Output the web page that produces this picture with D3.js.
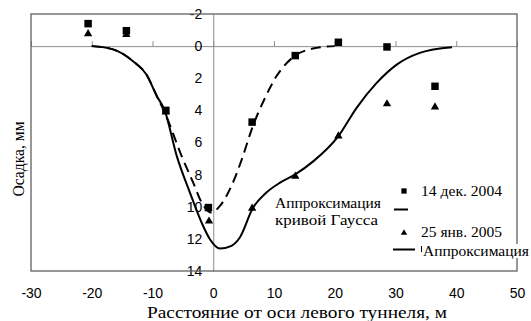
<!DOCTYPE html>
<html>
<head>
<meta charset="utf-8">
<script src="https://cdn.jsdelivr.net/npm/d3@7"></script>
<style>
  body { margin: 0; background: #fff; }
</style>
</head>
<body>
<div id="chart"></div>
<script>
// tick values
var xTicks = [-30, -20, -10, 0, 10, 20, 30, 40, 50];
var yTicks = [-2, 0, 2, 4, 6, 8, 10, 12, 14];

// measured settlement, 14 Dec 2004 (squares)
var decX = [-20.6, -14.3, -7.8, -0.8, 6.4, 13.5, 20.6, 28.6, 36.5];
var decY = [-1.4, -0.96, 4.0, 10.05, 4.73, 0.59, -0.24, 0.05, 2.5];

// measured settlement, 25 Jan 2005 (triangles)
var janX = [-20.6, -14.3, -7.8, -0.7, 6.4, 13.5, 20.6, 28.6, 36.5];
var janY = [-0.76, -0.72, 4.1, 10.9, 10.1, 8.1, 5.6, 3.6, 3.8];

// gauss approximation (dashed)
var gaussX = [-20, -16.5, -13.2, -11, -9.3, -7.8, -5.2, -3.3, -1.9, -0.3, 1.1, 3, 4.7, 6.5, 8.3, 10.4, 13.5, 17, 20];
var gaussY = [0, 0.2, 0.94, 1.77, 3.1, 4.3, 6.85, 8.5, 9.74, 10.36, 9.95, 8.7, 7.05, 5.0, 3.4, 1.88, 0.59, 0.11, 0];

// approximation (solid)
var apprX = [-20, -16.5, -13.2, -11, -9.3, -8, -6, -3.84, -1.9, -0.55, 1.1, 3, 4.4, 6.5, 8.8, 11, 13.5, 16.5, 20.6, 23.6, 26.9, 30.2, 34, 39.3];
var apprY = [0, 0.2, 0.94, 1.77, 3.1, 4.0, 6.85, 9.12, 11.0, 12.02, 12.6, 12.43, 11.9, 10.1, 9.1, 8.5, 7.98, 7.16, 5.6, 3.84, 2.29, 1.15, 0.42, 0.07];

function drawChart() {
  var width = 531, height = 321;
  var pLeft = 31, pRight = 517, pTop = 14, pBottom = 271;
  var sans = "'Liberation Sans', Arial, sans-serif";
  var serif = "'Liberation Serif', 'Times New Roman', serif";

  var svg = d3.select("#chart").append("svg")
      .attr("width", width)
      .attr("height", height);

  var x = d3.scaleLinear().domain([-30, 50]).range([pLeft, pRight]);
  var y = d3.scaleLinear().domain([-2, 14]).range([pTop, pBottom]);

  function zip(xs, ys) { return xs.map(function(v, i) { return [v, ys[i]]; }); }
  var fmt = function(d) { return String(d); };

  //horizontal zero line with small ticks pointing up
  svg.append("g")
      .attr("transform", "translate(0," + y(0) + ")")
      .call(d3.axisTop(x).tickValues(xTicks).tickSize(5).tickSizeOuter(0).tickFormat(""))
      .call(function(g) { g.selectAll("line,path").attr("stroke", "#8c8c8c"); });

  //vertical axis at x = 0 with labels to the left
  svg.append("g")
      .attr("transform", "translate(" + x(0) + ",0)")
      .call(d3.axisLeft(y).tickValues(yTicks).tickSize(0).tickPadding(11).tickFormat(fmt))
      .call(function(g) {
        g.select(".domain").attr("stroke", "#8c8c8c");
        g.selectAll("text").attr("fill", "#000")
          .style("font-family", sans).style("font-size", "14px");
      });

  //x labels under the frame
  svg.append("g")
      .attr("transform", "translate(0," + pBottom + ")")
      .call(d3.axisBottom(x).tickValues(xTicks).tickSize(0).tickPadding(17).tickFormat(fmt))
      .call(function(g) {
        g.select(".domain").remove();
        g.selectAll("text").attr("fill", "#000")
          .style("font-family", sans).style("font-size", "14px");
      });

  //frame
  svg.append("rect")
      .attr("x", pLeft).attr("y", pTop)
      .attr("width", pRight - pLeft).attr("height", pBottom - pTop)
      .attr("fill", "none")
      .attr("stroke", "#606060")
      .attr("stroke-width", 1.3);

  var line = d3.line()
      .x(function(d) { return x(d[0]); })
      .y(function(d) { return y(d[1]); })
      .curve(d3.curveMonotoneX);

  svg.append("path")
      .datum(zip(gaussX, gaussY))
      .attr("d", line)
      .attr("fill", "none")
      .attr("stroke", "#000")
      .attr("stroke-width", 2)
      .attr("stroke-dasharray", "10,6");

  svg.append("path")
      .datum(zip(apprX, apprY))
      .attr("d", line)
      .attr("fill", "none")
      .attr("stroke", "#000")
      .attr("stroke-width", 2);

  var square = d3.symbol().type(d3.symbolSquare);
  var triangle = d3.symbol().type(d3.symbolTriangle);

  svg.append("g").selectAll("path")
      .data(zip(janX, janY))
      .enter().append("path")
      .attr("transform", function(d) { return "translate(" + x(d[0]) + "," + y(d[1]) + ")"; })
      .attr("d", triangle.size(30))
      .attr("fill", "#000");

  svg.append("g").selectAll("path")
      .data(zip(decX, decY))
      .enter().append("path")
      .attr("transform", function(d) { return "translate(" + x(d[0]) + "," + y(d[1]) + ")"; })
      .attr("d", square.size(56))
      .attr("fill", "#000");

  //serif text stretched to the width measured on the picture
  function serifText(g, tx, ty, s, len, size) {
    return g.append("text")
        .attr("x", tx).attr("y", ty)
        .attr("fill", "#000")
        .attr("textLength", len)
        .attr("lengthAdjust", "spacingAndGlyphs")
        .style("font-family", serif)
        .style("font-size", (size || 15.5) + "px")
        .text(s);
  }

  //legend
  var legend = svg.append("g");
  legend.append("path")
      .attr("transform", "translate(404,191)")
      .attr("d", square.size(28)).attr("fill", "#000");
  serifText(legend, 421, 195.5, "14 дек. 2004", 81);
  legend.append("line")
      .attr("x1", 394).attr("x2", 408).attr("y1", 209.5).attr("y2", 209.5)
      .attr("stroke", "#000").attr("stroke-width", 2);
  legend.append("path")
      .attr("transform", "translate(404,233)")
      .attr("d", triangle.size(18)).attr("fill", "#000");
  serifText(legend, 421, 237, "25 янв. 2005", 81);
  legend.append("line")
      .attr("x1", 393).attr("x2", 415).attr("y1", 249.5).attr("y2", 249.5)
      .attr("stroke", "#000").attr("stroke-width", 2);
  legend.append("rect")
      .attr("x", 421).attr("y", 244).attr("width", 110).attr("height", 14)
      .attr("fill", "#fff");
  legend.append("line")
      .attr("x1", 421.5).attr("x2", 421.5).attr("y1", 246).attr("y2", 252)
      .attr("stroke", "#000").attr("stroke-width", 1);
  serifText(legend, 423, 255.5, "Аппроксимация", 106);

  //label of gauss curve
  serifText(svg, 275, 208, "Аппроксимация", 106);
  serifText(svg, 275, 225, "кривой Гаусса", 103);

  //axis titles
  serifText(svg, 147, 317.5, "Расстояние от оси левого туннеля, м", 300, 16);

  serifText(svg, 0, 0, "Осадка, мм", 75, 16)
      .attr("transform", "translate(24,159) rotate(-90)")
      .attr("text-anchor", "middle");
}

drawChart();
</script>
</body>
</html>
